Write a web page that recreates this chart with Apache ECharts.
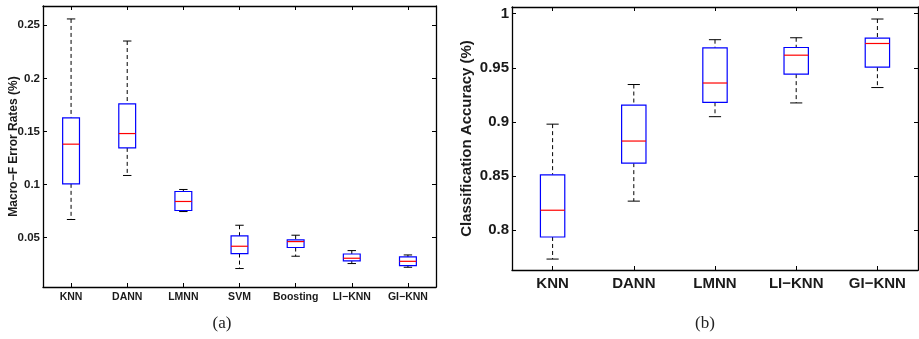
<!DOCTYPE html>
<html>
<head>
<meta charset="utf-8">
<script src="https://cdn.jsdelivr.net/npm/echarts@6/dist/echarts.min.js"></script>
<style>
  html, body { margin: 0; padding: 0; background: #fff; }
  #chart { width: 919px; height: 339px; }
</style>
</head>
<body>
<div id="chart"></div>
<script>
// (a) Macro-F error rates
const leftCategories = ['KNN', 'DANN', 'LMNN', 'SVM', 'Boosting', 'LI\u2212KNN', 'GI\u2212KNN'];
const leftLow = [0.067, 0.1085, 0.0745, 0.0208, 0.0324, 0.0255, 0.022];
const leftQ1 = [0.1006, 0.1345, 0.0755, 0.0349, 0.0406, 0.028, 0.0236];
const leftMedian = [0.138, 0.148, 0.084, 0.0418, 0.0462, 0.0305, 0.0276];
const leftQ3 = [0.1628, 0.176, 0.0934, 0.0515, 0.0478, 0.0345, 0.0317];
const leftHigh = [0.256, 0.2352, 0.0953, 0.0616, 0.0522, 0.0377, 0.0336];
const leftRange = [0.0034, 0.2682];

// (b) classification accuracy
const rightCategories = ['KNN', 'DANN', 'LMNN', 'LI\u2212KNN', 'GI\u2212KNN'];
const rightLow = [0.7734, 0.8269, 0.9049, 0.9176, 0.9318];
const rightQ1 = [0.7938, 0.862, 0.9182, 0.9442, 0.9506];
const rightMedian = [0.8185, 0.8824, 0.936, 0.9617, 0.9725];
const rightQ3 = [0.8512, 0.9155, 0.9685, 0.9688, 0.9775];
const rightHigh = [0.898, 0.9346, 0.976, 0.9778, 0.9951];
const rightRange = [0.7633, 1.0062];

const font = 'Liberation Sans, Arial, sans-serif';
const textColor = '#1a1a1a';

function boxData(low, q1, med, q3, high) {
  return low.map((v, i) => [i, v, q1[i], med[i], q3[i], high[i]]);
}

// matlab-style boxplot: dashed whiskers, black caps, blue box, red median
function renderBox(params, api) {
  const idx = api.value(0);
  const pLow = api.coord([idx, api.value(1)]);
  const pQ1 = api.coord([idx, api.value(2)]);
  const pMed = api.coord([idx, api.value(3)]);
  const pQ3 = api.coord([idx, api.value(4)]);
  const pHigh = api.coord([idx, api.value(5)]);
  const w = api.size([1, 0])[0] * 0.3;
  const x = pMed[0];
  const cap = w / 4;
  const dashed = { stroke: '#000', lineWidth: 1, lineDash: [4, 3] };
  const solid = { stroke: '#000', lineWidth: 1 };
  return {
    type: 'group',
    children: [
      { type: 'line', shape: { x1: x, y1: pHigh[1], x2: x, y2: pQ3[1] }, style: dashed },
      { type: 'line', shape: { x1: x, y1: pQ1[1], x2: x, y2: pLow[1] }, style: dashed },
      { type: 'line', shape: { x1: x - cap, y1: pHigh[1], x2: x + cap, y2: pHigh[1] }, style: solid },
      { type: 'line', shape: { x1: x - cap, y1: pLow[1], x2: x + cap, y2: pLow[1] }, style: solid },
      {
        type: 'rect',
        shape: { x: x - w / 2, y: pQ3[1], width: w, height: pQ1[1] - pQ3[1] },
        style: { fill: '#fff', stroke: '#0000ff', lineWidth: 1.2 },
      },
      { type: 'line', shape: { x1: x - w / 2, y1: pMed[1], x2: x + w / 2, y2: pMed[1] }, style: { stroke: '#ff0000', lineWidth: 1.2 } },
    ],
  };
}

function catAxis(grid, data, position, fontSize, margin) {
  return {
    type: 'category',
    gridIndex: grid,
    position: position,
    data: data,
    boundaryGap: true,
    axisLine: { show: true, lineStyle: { color: '#000', width: 1.3 } },
    axisTick: { show: true, inside: true, alignWithLabel: true, length: 4, lineStyle: { color: '#000' } },
    axisLabel: {
      show: position === 'bottom',
      margin: margin,
      color: textColor,
      fontFamily: font,
      fontWeight: 'bold',
      fontSize: fontSize,
      interval: 0,
    },
    splitLine: { show: false },
  };
}

function valAxis(grid, range, position, fontSize, name, nameSize, nameGap) {
  return {
    type: 'value',
    gridIndex: grid,
    position: position,
    min: range[0],
    max: range[1],
    splitNumber: 5,
    name: position === 'left' ? name : '',
    nameLocation: 'middle',
    nameGap: nameGap,
    nameMoveOverlap: false,
    nameTextStyle: { color: textColor, fontFamily: font, fontWeight: 'bold', fontSize: nameSize },
    axisLine: { show: true, lineStyle: { color: '#000', width: 1.3 } },
    axisTick: { show: true, inside: true, length: 4, lineStyle: { color: '#000' } },
    axisLabel: {
      show: position === 'left',
      margin: 3,
      color: textColor,
      fontFamily: font,
      fontWeight: 'bold',
      fontSize: fontSize,
      showMinLabel: false,
      showMaxLabel: false,
    },
    splitLine: { show: false },
  };
}

const chart = echarts.init(document.getElementById('chart'));
chart.setOption({
  animation: false,
  grid: [
    { left: 43, top: 6, width: 393, height: 281 },
    { left: 512, top: 7, width: 406, height: 263 },
  ],
  xAxis: [
    catAxis(0, leftCategories, 'bottom', 10.5, 5),
    catAxis(0, leftCategories, 'top', 10.5, 5),
    catAxis(1, rightCategories, 'bottom', 15, 6),
    catAxis(1, rightCategories, 'top', 15, 6),
  ],
  yAxis: [
    valAxis(0, leftRange, 'left', 11.5, 'Macro\u2212F Error Rates (%)', 12, 23),
    valAxis(0, leftRange, 'right', 11.5, '', 12, 23),
    valAxis(1, rightRange, 'left', 15, 'Classification Accuracy (%)', 15, 38),
    valAxis(1, rightRange, 'right', 15, '', 15, 38),
  ],
  series: [
    {
      type: 'custom',
      xAxisIndex: 0,
      yAxisIndex: 0,
      renderItem: renderBox,
      encode: { x: 0, y: [1, 2, 3, 4, 5] },
      data: boxData(leftLow, leftQ1, leftMedian, leftQ3, leftHigh),
    },
    {
      type: 'custom',
      xAxisIndex: 2,
      yAxisIndex: 2,
      renderItem: renderBox,
      encode: { x: 0, y: [1, 2, 3, 4, 5] },
      data: boxData(rightLow, rightQ1, rightMedian, rightQ3, rightHigh),
    },
  ],
  graphic: [
    {
      type: 'text',
      x: 222,
      y: 324,
      style: { text: '(a)', fill: '#222', font: '17px "Liberation Serif", serif', textAlign: 'center', textVerticalAlign: 'middle' },
    },
    {
      type: 'text',
      x: 705,
      y: 324,
      style: { text: '(b)', fill: '#222', font: '17px "Liberation Serif", serif', textAlign: 'center', textVerticalAlign: 'middle' },
    },
  ],
});
</script>
</body>
</html>
